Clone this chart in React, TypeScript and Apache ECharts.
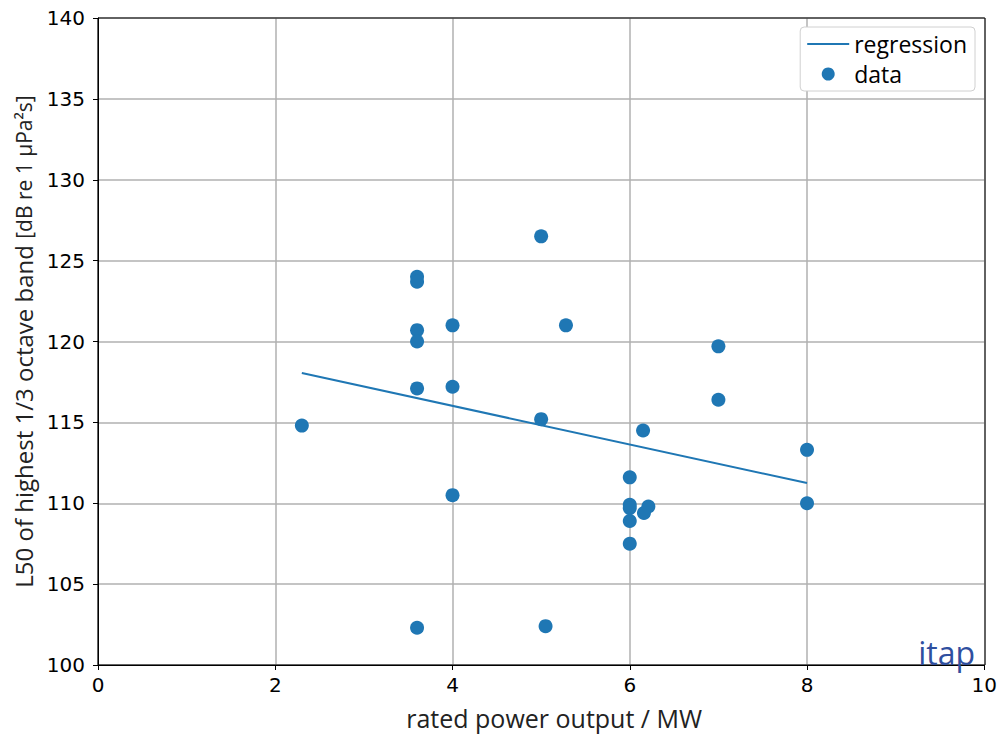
import React, { useEffect, useRef } from "react";
import * as echarts from "echarts";

const powerMW = [2.3, 3.6, 3.6, 3.6, 3.6, 3.6, 3.6, 4.0, 4.0, 4.0, 5.0, 5.0, 5.05, 5.28, 6.0, 6.0, 6.0, 6.0, 6.0, 6.15, 6.16, 6.21, 7.0, 7.0, 8.0, 8.0];
const levelDB = [114.8, 124.0, 123.7, 120.7, 120.0, 117.1, 102.3, 121.0, 117.2, 110.5, 126.5, 115.2, 102.4, 121.0, 111.6, 109.9, 109.7, 108.9, 107.5, 114.5, 109.4, 109.8, 119.7, 116.4, 113.3, 110.0];
const regressionX = [2.3, 8.0];
const regressionY = [118.05, 111.25];
const xTicks = [0, 2, 4, 6, 8, 10];
const yTicks = [100, 105, 110, 115, 120, 125, 130, 135, 140];

const BLUE = "#1f77b4";

export default function App() {
  const ref = useRef<HTMLDivElement>(null);
  useEffect(() => {
    if (!ref.current) return;
    const chart = echarts.init(ref.current, undefined, { renderer: "svg" });
    const tickFont = { fontFamily: "DejaVu Sans", fontSize: 20, color: "#000" };
    chart.setOption({
      animation: false,
      backgroundColor: "#fff",
      grid: { left: 98, right: 15, top: 18, bottom: 70, containLabel: false },
      xAxis: {
        type: "value",
        min: xTicks[0],
        max: xTicks[xTicks.length - 1],
        interval: 2,
        name: "rated power output / MW",
        nameLocation: "middle",
        nameGap: 40,
        nameTextStyle: { fontFamily: "Open Sans", fontSize: 25, color: "#222", padding: [0, 0, 0, 26] },
        axisLine: { show: true, onZero: false, lineStyle: { color: "#000", width: 1 } },
        axisTick: { show: true, length: 5, lineStyle: { color: "#000" } },
        axisLabel: { ...tickFont, margin: 10 },
        splitLine: { show: true, lineStyle: { color: "#b0b0b0", width: 1.5 } },
      },
      yAxis: {
        type: "value",
        min: yTicks[0],
        max: yTicks[yTicks.length - 1],
        interval: 5,
        name: "{a|L50 of highest 1/3 octave band }{b|[dB re 1 μPa²s]}",
        nameLocation: "middle",
        nameGap: 56,
        nameRotate: 90,
        nameTextStyle: {
          rich: {
            a: { fontFamily: "Open Sans", fontSize: 24, color: "#222" },
            b: { fontFamily: "Open Sans", fontSize: 21, color: "#222" },
          },
        },
        axisLine: { show: true, onZero: false, lineStyle: { color: "#000", width: 1 } },
        axisTick: { show: true, length: 5, lineStyle: { color: "#000" } },
        axisLabel: { ...tickFont, margin: 13 },
        splitLine: { show: true, lineStyle: { color: "#b0b0b0", width: 1.5 } },
      },
      legend: {
        right: 25,
        top: 27,
        orient: "vertical",
        backgroundColor: "#fff",
        borderColor: "#d0d0d0",
        borderWidth: 1,
        borderRadius: 4,
        padding: [4, 8, 4, 7],
        itemGap: 4,
        itemWidth: 42,
        itemHeight: 13,
        textStyle: { fontFamily: "Open Sans", fontSize: 23, lineHeight: 26, color: "#000" },
        data: [
          { name: "regression", icon: "path://M0,6 L42,6 L42,8 L0,8 Z" },
          { name: "data", icon: "circle" },
        ],
      },
      graphic: [
        {
          type: "rect",
          shape: { x: 98, y: 18, width: 887, height: 647 },
          style: { fill: "none", stroke: "#000", lineWidth: 1 },
          silent: true,
          z: 100,
        },
        {
          type: "text",
          right: 25,
          bottom: 67,
          style: { text: "itap", fontFamily: "Open Sans", fontSize: 32, fill: "#2f4f9f" },
          z: 101,
        },
      ],
      series: [
        {
          name: "regression",
          type: "line",
          data: regressionX.map((x, i) => [x, regressionY[i]]),
          symbol: "none",
          lineStyle: { color: BLUE, width: 2 },
          itemStyle: { color: BLUE },
          z: 3,
        },
        {
          name: "data",
          type: "scatter",
          data: powerMW.map((x, i) => [x, levelDB[i]]),
          symbolSize: 14,
          itemStyle: { color: BLUE, opacity: 1 },
          z: 4,
        },
      ],
    });
    return () => chart.dispose();
  }, []);
  return (
    <div
      ref={ref}
      style={{ position: "fixed", left: 0, top: 0, width: 1000, height: 735, background: "#fff" }}
    />
  );
}
